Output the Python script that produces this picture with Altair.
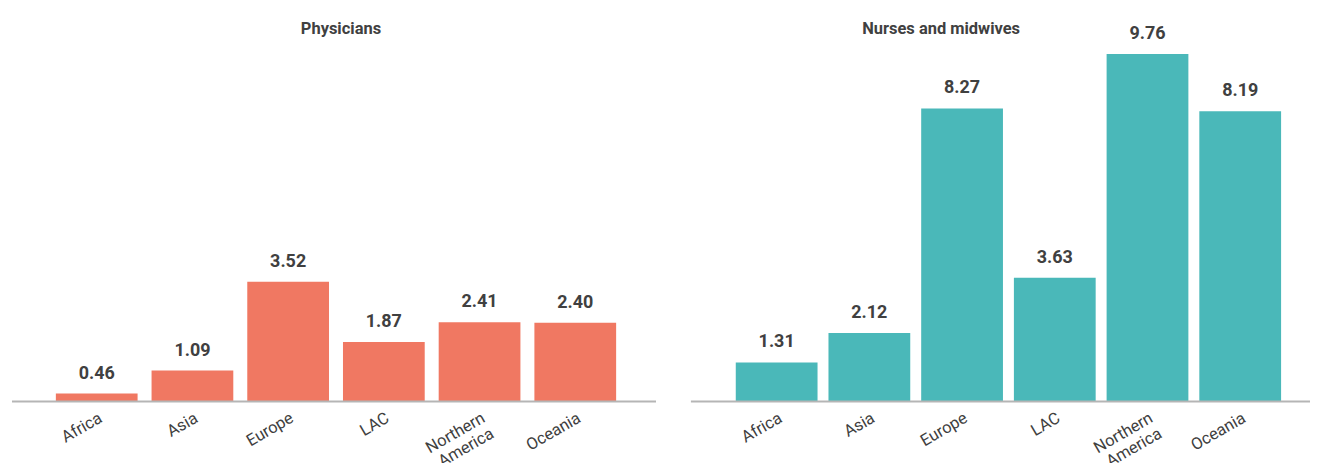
import altair as alt
import pandas as pd

regions = ["Africa", "Asia", "Europe", "LAC", "Northern America", "Oceania"]
physicians = [0.46, 1.09, 3.52, 1.87, 2.41, 2.40]
nurses = [1.31, 2.12, 8.27, 3.63, 9.76, 8.19]
titles = ["Physicians", "Nurses and midwives"]

FONT = "Roboto"
H = 387
YDOM = [0.24, 10.81]


def panel(values, title, color, W, rng, pinner, title_x):
    df = pd.DataFrame({
        "region": regions,
        "value": values,
        "label": [f"{v:.2f}" for v in values],
    })
    x = alt.X(
        "region:N",
        sort=regions,
        scale=alt.Scale(range=rng, paddingInner=pinner, paddingOuter=0),
        axis=alt.Axis(
            title=None, domain=False, ticks=False, labelAngle=-30,
            labelAlign="right", labelBaseline="top", labelFontSize=16.5,
            labelColor="#404040", labelFont=FONT, labelPadding=8,
            labelLineHeight=18,
            labelExpr="datum.label == 'Northern America' ? ['Northern', 'America'] : datum.label",
        ),
    )
    y = alt.Y("value:Q", scale=alt.Scale(domain=YDOM, clamp=True, nice=False, zero=False), axis=None)
    base = alt.Chart(df)
    bars = base.mark_bar(color=color).encode(x=x, y=y)
    text = base.mark_text(
        baseline="bottom", dy=-11, fontSize=18, fontWeight="bold",
        color="#404040", font=FONT,
    ).encode(x=x, y=y, text="label:N")
    one = alt.Chart(pd.DataFrame({"t": [title]}))
    rule = one.mark_rule(color="#b5b5b5", strokeWidth=2).encode(
        x=alt.value(0), x2=alt.value(W), y=alt.value(H)
    )
    ttl = one.mark_text(
        fontSize=16.5, fontWeight="bold", color="#404040", font=FONT,
        baseline="middle", align="center",
    ).encode(x=alt.value(title_x), y=alt.value(13), text="t:N")
    return alt.layer(bars, text, rule, ttl).properties(width=W, height=H)


left = panel(physicians, titles[0], "#F07862", 646, [44, 606], 0.146, 330)
right = panel(nurses, titles[1], "#4AB8B9", 621, [45, 592], 0.118, 251)

chart = alt.hconcat(left, right, spacing=33).properties(
    padding={"left": 3, "top": 7, "right": 0, "bottom": 0}
).configure_view(stroke=None).resolve_scale(x="independent", y="independent")

chart.save("out.html", embed_options={"renderer": "svg", "actions": False})
